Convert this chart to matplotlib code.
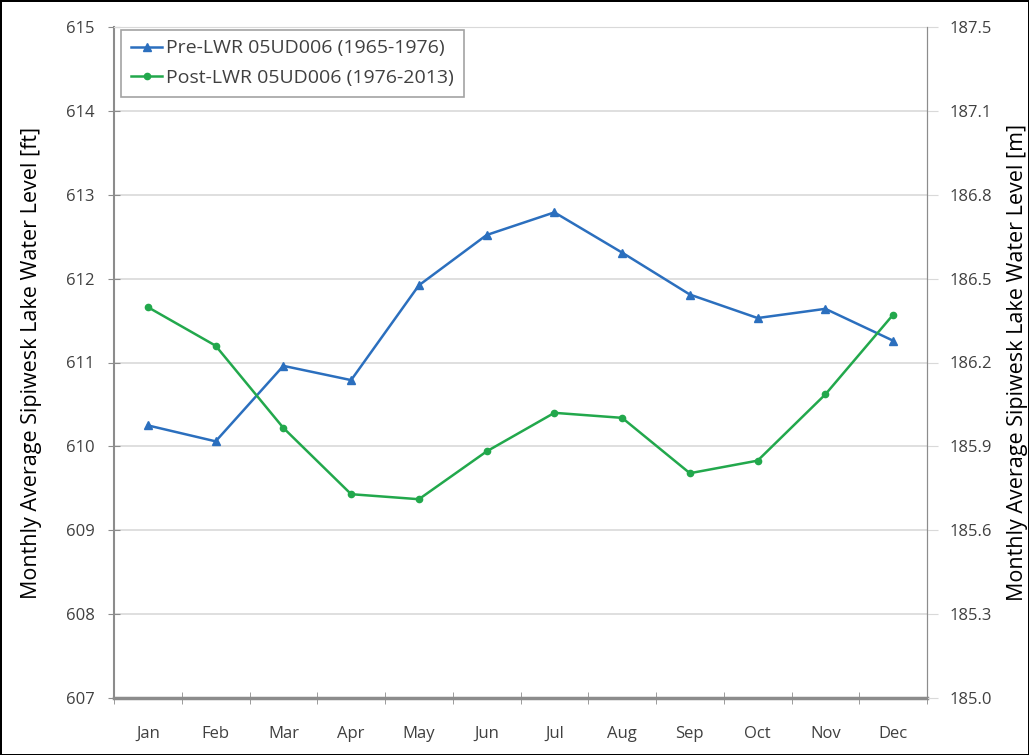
import numpy as np
import matplotlib.pyplot as plt

plt.rcParams.update({
    "font.family": ["Open Sans", "DejaVu Sans"],
    "font.size": 12,
})

# ============================================================
# Data
# ============================================================

months = ["Jan", "Feb", "Mar", "Apr", "May", "Jun",
          "Jul", "Aug", "Sep", "Oct", "Nov", "Dec"]

pre_lwr = [610.25, 610.06, 610.96, 610.79, 611.92, 612.52,
           612.79, 612.31, 611.81, 611.53, 611.64, 611.26]

post_lwr = [611.66, 611.20, 610.22, 609.43, 609.37, 609.94,
            610.40, 610.34, 609.68, 609.83, 610.62, 611.57]

pre_label = "Pre-LWR 05UD006 (1965-1976)"
post_label = "Post-LWR 05UD006 (1976-2013)"

ft_ticks = [607, 608, 609, 610, 611, 612, 613, 614, 615]
m_ticklabels = ["185.0", "185.3", "185.6", "185.9", "186.2",
                "186.5", "186.8", "187.1", "187.5"]

# ============================================================
# Figure
# ============================================================

fig = plt.figure(figsize=(10.29, 7.55), dpi=100)
fig.patch.set_edgecolor("black")
fig.patch.set_linewidth(2)

ax = fig.add_axes([114 / 1029, 57 / 755, 813 / 1029, 671 / 755])

x = np.arange(len(months))

blue = "#2B6FBE"
green = "#22A84C"
text_col = "#404040"
spine_col = "#8C8C8C"
grid_col = "#D9D9D9"

ax.plot(x, pre_lwr, color=blue, lw=1.8, marker="^", ms=6,
        label=pre_label, zorder=3)
ax.plot(x, post_lwr, color=green, lw=1.8, marker="o", ms=4.5,
        label=post_label, zorder=3)

ax.set_xlim(-0.5, len(months) - 0.5)
ax.set_ylim(ft_ticks[0], ft_ticks[-1])
ax.set_yticks(ft_ticks)
ax.set_yticklabels([str(t) for t in ft_ticks])

ax.set_xticks(x)
ax.set_xticklabels(months)
ax.set_xticks(np.arange(len(months) + 1) - 0.5, minor=True)
ax.tick_params(axis="x", which="major", length=0, pad=20, colors=text_col)
ax.tick_params(axis="x", which="minor", direction="inout", length=8,
               color=spine_col)
ax.tick_params(axis="y", direction="inout", length=8, color=spine_col,
               labelcolor=text_col, pad=10)

ax.grid(axis="y", color=grid_col, lw=1.2)
ax.set_axisbelow(True)

for side in ["left", "bottom"]:
    ax.spines[side].set_color(spine_col)
    ax.spines[side].set_linewidth(1.5)
ax.spines["bottom"].set_linewidth(2.5)
ax.spines["top"].set_color(grid_col)
ax.spines["right"].set_color(spine_col)

ax.set_ylabel("Monthly Average Sipiwesk Lake Water Level [ft]", fontsize=15.5)
ax.yaxis.set_label_coords(-0.088, 0.5)

# right axis in metres
ax2 = ax.twinx()
ax2.set_ylim(ft_ticks[0], ft_ticks[-1])
ax2.set_yticks(ft_ticks)
ax2.set_yticklabels(m_ticklabels)
ax2.tick_params(axis="y", direction="out", length=8, color=grid_col,
                labelcolor=text_col, pad=8)
for side in ["left", "bottom", "top"]:
    ax2.spines[side].set_visible(False)
ax2.spines["right"].set_color(spine_col)
ax2.set_ylabel("Monthly Average Sipiwesk Lake Water Level [m]", fontsize=15.5)
ax2.yaxis.set_label_coords(1.099, 0.5)

leg = ax.legend(loc="upper left", bbox_to_anchor=(0.009, 0.996),
                borderaxespad=0, frameon=True, fancybox=False, fontsize=14,
                handlelength=1.6, handletextpad=0.2,
                borderpad=0.5, labelspacing=0.6)
leg.get_frame().set_edgecolor(spine_col)
leg.get_frame().set_linewidth(1.2)
for t in leg.get_texts():
    t.set_color(text_col)

fig.savefig("out.png", dpi=100)
